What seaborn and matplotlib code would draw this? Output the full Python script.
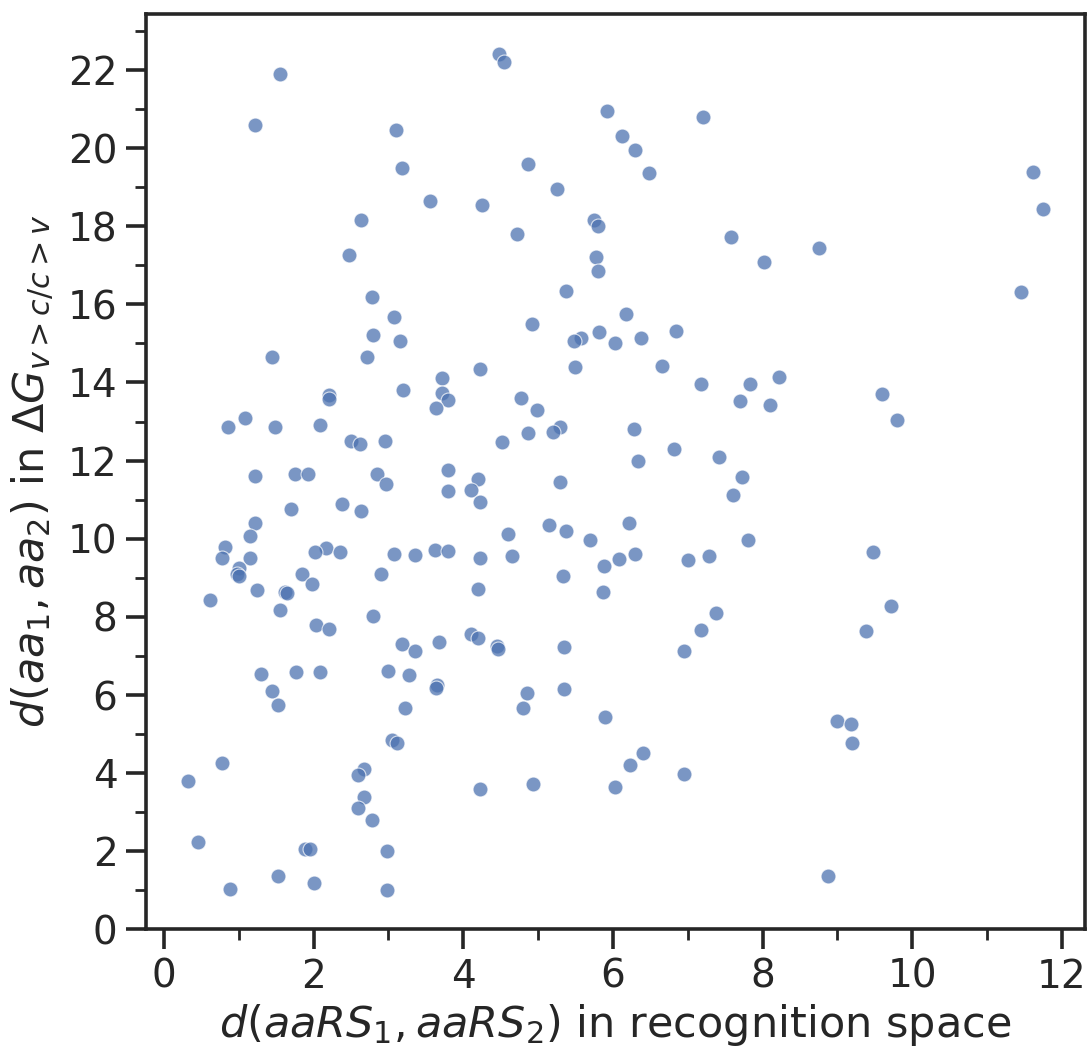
import matplotlib
matplotlib.use("Agg")
import matplotlib.pyplot as plt
from matplotlib.ticker import MultipleLocator
import seaborn as sns
import pandas as pd

# distance in recognition space (x) and in Delta G (y)
recognition_dist = [
    4.48, 4.55, 1.55, 1.22, 5.92, 7.20, 3.10, 6.12, 6.30, 4.87,
    3.18, 6.48, 11.62, 5.25, 3.55, 4.25, 11.75, 2.63, 5.75, 5.80,
    4.72, 7.58, 2.48, 5.77, 8.02, 8.75, 5.80, 5.37, 11.45, 2.78,
    6.18, 3.08, 4.92, 5.82, 6.85, 2.80, 5.58, 6.38, 5.48, 3.15,
    6.03, 1.45, 2.72, 5.50, 6.65, 4.23, 8.22, 3.72, 7.18, 7.83,
    3.20, 3.72, 9.60, 2.20, 2.21, 4.77, 3.80, 7.70, 8.10, 3.63,
    4.98, 1.08, 9.80, 0.85, 1.48, 2.08, 5.30, 6.28, 5.20, 4.87,
    2.50, 2.62, 2.95, 4.52, 6.82, 7.42, 6.33, 3.80, 1.75, 1.93,
    2.85, 1.22, 7.73, 4.20, 5.30, 2.97, 3.80, 4.10, 7.60, 4.22,
    2.38, 1.70, 2.63, 1.22, 6.22, 5.15, 5.38, 4.60, 1.15, 5.70,
    7.80, 0.82, 2.17, 3.62, 3.80, 2.02, 2.35, 9.48, 3.08, 6.30,
    3.35, 4.65, 7.28, 0.78, 4.22, 1.15, 6.08, 7.00, 5.88, 1.00,
    0.97, 1.00, 1.85, 2.90, 5.33, 1.98, 4.20, 1.25, 1.62, 1.65,
    5.87, 0.62, 9.72, 1.55, 7.38, 2.80, 2.03, 2.20, 7.18, 9.38,
    4.10, 4.20, 3.67, 3.18, 4.45, 4.47, 5.35, 3.35, 6.95, 1.77,
    3.00, 2.08, 1.30, 3.28, 3.65, 3.63, 5.35, 1.45, 4.85, 1.52,
    3.22, 4.80, 5.90, 9.00, 9.18, 3.05, 3.12, 9.20, 6.40, 0.77,
    6.23, 2.68, 2.60, 6.95, 0.32, 4.93, 6.03, 4.22, 2.68, 2.60,
    2.78, 0.45, 1.88, 1.95, 2.98, 1.52, 8.88, 2.00, 0.88, 2.98,
]
deltaG_dist = [
    22.40, 22.20, 21.90, 20.60, 20.95, 20.80, 20.45, 20.30, 19.95, 19.60,
    19.50, 19.35, 19.38, 18.95, 18.65, 18.55, 18.45, 18.15, 18.15, 18.00,
    17.80, 17.72, 17.25, 17.20, 17.08, 17.45, 16.85, 16.35, 16.32, 16.20,
    15.75, 15.68, 15.50, 15.30, 15.32, 15.22, 15.15, 15.15, 15.05, 15.05,
    15.00, 14.65, 14.65, 14.40, 14.42, 14.35, 14.15, 14.12, 13.95, 13.95,
    13.80, 13.72, 13.70, 13.68, 13.58, 13.60, 13.55, 13.52, 13.42, 13.35,
    13.30, 13.10, 13.05, 12.85, 12.85, 12.90, 12.85, 12.82, 12.72, 12.70,
    12.50, 12.42, 12.50, 12.48, 12.30, 12.10, 12.00, 11.75, 11.65, 11.65,
    11.65, 11.60, 11.57, 11.52, 11.45, 11.40, 11.22, 11.25, 11.12, 10.95,
    10.90, 10.77, 10.70, 10.40, 10.40, 10.35, 10.20, 10.12, 10.08, 9.98,
    9.97, 9.78, 9.77, 9.72, 9.68, 9.65, 9.65, 9.65, 9.62, 9.60,
    9.58, 9.57, 9.55, 9.52, 9.50, 9.50, 9.47, 9.45, 9.30, 9.25,
    9.10, 9.05, 9.10, 9.10, 9.05, 8.85, 8.72, 8.70, 8.65, 8.62,
    8.65, 8.43, 8.28, 8.18, 8.10, 8.03, 7.78, 7.70, 7.67, 7.65,
    7.55, 7.47, 7.35, 7.30, 7.25, 7.18, 7.23, 7.12, 7.13, 6.60,
    6.62, 6.58, 6.55, 6.52, 6.25, 6.18, 6.15, 6.10, 6.05, 5.75,
    5.67, 5.67, 5.45, 5.33, 5.25, 4.85, 4.78, 4.78, 4.52, 4.27,
    4.22, 4.10, 3.95, 3.98, 3.80, 3.72, 3.65, 3.60, 3.40, 3.10,
    2.80, 2.23, 2.05, 2.05, 2.02, 1.38, 1.37, 1.18, 1.03, 1.02,
]

xlabel = r"$d(aaRS_1, aaRS_2)$ in recognition space"
ylabel = r"$d(aa_1, aa_2)$ in $\Delta G_{v>c/c>v}$"

df = pd.DataFrame({"x": recognition_dist, "y": deltaG_dist})

sns.set_theme(style="ticks")
plt.rcParams["font.family"] = ["DejaVu Sans"]
plt.rcParams["mathtext.fontset"] = "dejavusans"

fig = plt.figure(figsize=(10.91, 10.53), dpi=100)
ax = fig.add_axes([0.1338, 0.1173, 0.8607, 0.8694])

sns.scatterplot(data=df, x="x", y="y", ax=ax, color="#4C72B0", alpha=0.74,
                s=115, edgecolor="white", linewidth=0.8)

ax.set_xlim(-0.24, 12.31)
ax.set_ylim(0, 23.43)
ax.xaxis.set_major_locator(MultipleLocator(2))
ax.xaxis.set_minor_locator(MultipleLocator(1))
ax.yaxis.set_major_locator(MultipleLocator(2))
ax.yaxis.set_minor_locator(MultipleLocator(1))

for sp in ax.spines.values():
    sp.set_linewidth(2.6)
    sp.set_color("#262626")
ax.tick_params(axis="both", which="major", length=14.5, width=2.6,
               labelsize=28, color="#262626", labelcolor="#262626", pad=6)
ax.tick_params(axis="both", which="minor", length=8, width=2.0, color="#262626")

ax.set_xlabel(xlabel, fontsize=31, color="#262626", labelpad=4)
ax.set_ylabel(ylabel, fontsize=31, color="#262626", labelpad=8)

fig.savefig("out.png", dpi=100)
